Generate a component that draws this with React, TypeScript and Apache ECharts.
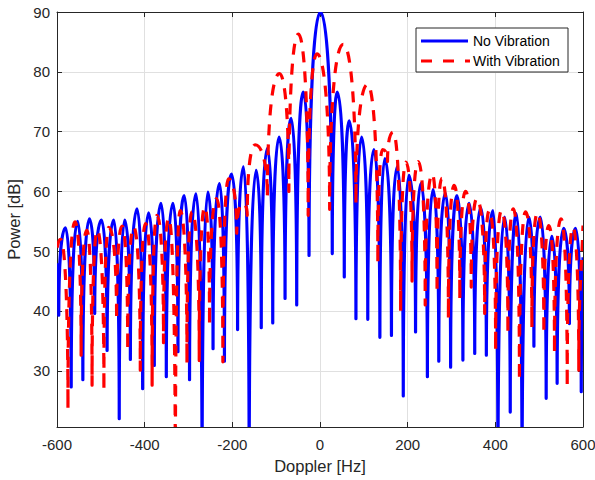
import React, { useEffect, useRef } from "react";
import * as echarts from "echarts";

// [Doppler Hz, Power dB] (lobe peaks and nulls)
const noVibration: number[][] = [
  [-600, 48], [-596, 39.3], [-580.6, 53.9], [-567.6, 27.3], [-553, 55.0], [-541, 28.5],
  [-526, 55.4], [-514, 39.6], [-498.6, 55.2], [-485.7, 33.4], [-470.6, 55.2], [-458, 22.0],
  [-445.5, 55.2], [-432.6, 31.9], [-417.4, 57.1], [-404.6, 27.0], [-391, 56.4], [-378, 30.9],
  [-362.8, 58.0], [-350.6, 29.0], [-335.5, 58.0], [-324, 33.2], [-309.7, 59.3], [-297.6, 28.5],
  [-283, 59.6], [-269, 10], [-255.7, 59.9], [-244, 33.7], [-229.3, 61.3], [-218, 31.6],
  [-202, 62.9], [-188, 36.9], [-174.6, 64.1], [-161.6, 10], [-145.7, 63.5], [-134, 37.2],
  [-120, 67.2], [-107.8, 38.0], [-93.3, 69.1], [-79.7, 42.1], [-66, 72.2], [-53.1, 41.0],
  [-38, 76.6], [-25, 49.3], [1, 90], [28, 49.6], [39.5, 76.6], [55.4, 45.7],
  [66.7, 71.8], [82, 38.7], [95, 69.1], [109, 38.6], [123, 67.0], [136.6, 35.6],
  [148, 65.5], [163, 35.9], [176, 64.1], [190, 25.8], [203, 62.7], [218, 36.5],
  [230, 61.3], [245, 29.0], [258, 60.3], [271, 31.6], [286, 59.7], [298, 30.6],
  [312.6, 59.3], [326, 31.8], [340, 58.0], [353, 32.9], [366.6, 57.3], [379.5, 32.6],
  [394.6, 56.8], [406, 10], [421, 55.7], [434, 23.1], [448, 56.3], [461, 10],
  [476.6, 55.7], [488, 34.1], [502.5, 55.7], [516, 25.4], [529, 52.5], [541, 27.9],
  [556, 53.8], [569, 37.9], [583, 53.8], [596, 26.5], [600, 49],
];

const withVibration: number[][] = [
  [-600, 50.6], [-592, 52.0], [-575, 23.7], [-559, 54.9], [-545, 32.6], [-532, 53.5],
  [-520, 27.6], [-508, 53.5], [-493, 26.7], [-482, 54.0], [-464, 38.5], [-451.6, 54.2],
  [-438.7, 33.4], [-425, 54.0], [-410, 30.1], [-398, 54.6], [-383, 27.6], [-372, 56.0],
  [-357, 34.7], [-345, 55.5], [-330, 10], [-319, 56.8], [-303.5, 31.3], [-292, 56.6],
  [-275.5, 31.7], [-263, 57.4], [-252, 37.6], [-236, 58.8], [-221.6, 31.5], [-208.7, 62.1],
  [-190, 53], [-176, 58], [-166, 56], [-148, 67.8], [-120, 59], [-92.6, 79.7],
  [-71, 60], [-49.4, 86.3], [-27, 56], [-7, 83], [22, 57], [53, 84.6],
  [82, 58], [108.6, 77.9], [132, 48], [143, 67], [154, 65], [167, 69.9],
  [184, 40], [196, 64.9], [210, 45], [224, 65.0], [240, 41], [256, 62.9],
  [267, 43], [278, 62.2], [293, 38.8], [306, 61.0], [319, 42], [332, 60.0],
  [345, 44], [358, 58.8], [375.7, 39.6], [386, 56.8], [400.7, 33.4], [414, 56.8],
  [428.7, 36.2], [441, 57.1], [455, 28.4], [469, 56.6], [483.4, 37.3], [496, 56.4],
  [510.7, 36.2], [522, 54.3], [535, 32.9], [550, 55.4], [564, 27.3], [577, 54.0],
  [590.4, 30.1], [600, 54.3],
];

const seriesNames = ["No Vibration", "With Vibration"];
const xName = "Doppler [Hz]";
const yName = "Power [dB]";

const AXIS = "#262626";
const GRIDC = "#e0e0e0";
const FONT = "Liberation Sans, Arial, Helvetica, sans-serif";

// Draws the spectrum through the axes' scales: each lobe is a curve that leaves a null
// vertically and crosses its peak horizontally.
function lobeRenderer(points: number[][], stroke: string, dash: number[] | null) {
  return (params: any, api: any) => {
    if (params.dataIndex !== 0) return null;
    const px = points.map((p) => api.coord([p[0], p[1]]) as number[]);
    const n = px.length;
    const kind = (i: number) => {
      if (i === 0 || i === n - 1) return "end";
      const y = points[i][1];
      if (y > points[i - 1][1] && y > points[i + 1][1]) return "max";
      if (y < points[i - 1][1] && y < points[i + 1][1]) return "min";
      return "mid";
    };
    const handle = (i: number, j: number) => {
      const P = px[i];
      const Q = px[j];
      const k = kind(i);
      if (k === "max") return [P[0] + 0.6 * (Q[0] - P[0]), P[1]];
      if (k === "min") return [P[0], P[1] + 0.6 * (Q[1] - P[1])];
      return [P[0] + 0.33 * (Q[0] - P[0]), P[1] + 0.33 * (Q[1] - P[1])];
    };
    let d = `M${px[0][0].toFixed(2)} ${px[0][1].toFixed(2)}`;
    for (let i = 0; i < n - 1; i++) {
      const a = handle(i, i + 1);
      const b = handle(i + 1, i);
      const e = px[i + 1];
      d += ` C${a[0].toFixed(2)} ${a[1].toFixed(2)} ${b[0].toFixed(2)} ${b[1].toFixed(2)} ${e[0].toFixed(2)} ${e[1].toFixed(2)}`;
    }
    const style: any = { fill: "none", stroke, lineWidth: 3.2, lineJoin: "round" };
    if (dash) style.lineDash = dash;
    return { type: "path", shape: { pathData: d }, style };
  };
}

export default function App() {
  const ref = useRef<HTMLDivElement>(null);
  useEffect(() => {
    if (!ref.current) return;
    const chart = echarts.init(ref.current, undefined, { renderer: "svg" });
    const baseX = {
      type: "value" as const,
      min: -600,
      max: 600,
      interval: 200,
    };
    chart.setOption({
      animation: false,
      backgroundColor: "#ffffff",
      grid: { left: 57, right: 12, top: 12, bottom: 53, containLabel: false, outerBoundsMode: "none" },
      xAxis: [
        {
          ...baseX,
          position: "bottom",
          name: xName,
          nameLocation: "middle",
          nameGap: 30,
          nameTextStyle: { color: AXIS, fontSize: 16.5, fontFamily: FONT },
          axisLine: { onZero: false, lineStyle: { color: AXIS, width: 1 } },
          axisTick: { inside: true, length: 5, lineStyle: { color: AXIS } },
          axisLabel: { color: AXIS, fontSize: 15, fontFamily: FONT, margin: 10 },
          splitLine: { show: true, lineStyle: { color: GRIDC, width: 1 } },
        },
        {
          ...baseX,
          position: "top",
          axisLine: { onZero: false, lineStyle: { color: AXIS, width: 1 } },
          axisTick: { inside: true, length: 5, lineStyle: { color: AXIS } },
          axisLabel: { show: false },
          splitLine: { show: false },
        },
      ],
      yAxis: [
        {
          type: "value",
          min: 20.6,
          max: 90,
          splitNumber: 7,
          position: "left",
          name: yName,
          nameLocation: "middle",
          nameGap: 30,
          nameTextStyle: { color: AXIS, fontSize: 16.5, fontFamily: FONT },
          axisLine: { show: true, onZero: false, lineStyle: { color: AXIS, width: 1 } },
          axisTick: { show: true, inside: true, length: 5, lineStyle: { color: AXIS } },
          axisLabel: {
            color: AXIS,
            fontSize: 15,
            fontFamily: FONT,
            margin: 7,
            formatter: (v: number) => (Math.abs(v % 10) < 1e-6 ? String(v) : ""),
          },
          splitLine: { show: true, lineStyle: { color: GRIDC, width: 1 } },
        },
        {
          type: "value",
          min: 20.6,
          max: 90,
          splitNumber: 7,
          position: "right",
          axisLine: { show: true, onZero: false, lineStyle: { color: AXIS, width: 1 } },
          axisTick: { show: true, inside: true, length: 5, lineStyle: { color: AXIS } },
          axisLabel: { show: false },
          splitLine: { show: false },
        },
      ],
      series: [
        {
          name: seriesNames[0],
          type: "custom",
          coordinateSystem: "cartesian2d",
          xAxisIndex: 0,
          yAxisIndex: 0,
          data: noVibration,
          encode: { x: 0, y: 1 },
          clip: true,
          renderItem: lobeRenderer(noVibration, "#0000ff", null),
          z: 2,
        },
        {
          name: seriesNames[1],
          type: "custom",
          coordinateSystem: "cartesian2d",
          xAxisIndex: 0,
          yAxisIndex: 0,
          data: withVibration,
          encode: { x: 0, y: 1 },
          clip: true,
          renderItem: lobeRenderer(withVibration, "#ff0000", [11, 9]),
          z: 3,
        },
      ],
      graphic: [
        {
          type: "rect",
          shape: { x: 416, y: 28, width: 152, height: 44 },
          style: { fill: "#ffffff", stroke: AXIS, lineWidth: 1 },
          z: 10,
        },
        {
          type: "line",
          shape: { x1: 421, y1: 41, x2: 468, y2: 41 },
          style: { stroke: "#0000ff", lineWidth: 3 },
          z: 11,
        },
        {
          type: "line",
          shape: { x1: 421, y1: 61, x2: 470, y2: 61 },
          style: { stroke: "#ff0000", lineWidth: 3, lineDash: [11, 11] },
          z: 11,
        },
        {
          type: "text",
          x: 473,
          y: 41,
          style: { text: seriesNames[0], fill: "#000", fontSize: 14, fontFamily: FONT, verticalAlign: "middle" },
          z: 11,
        },
        {
          type: "text",
          x: 473,
          y: 61,
          style: { text: seriesNames[1], fill: "#000", fontSize: 14, fontFamily: FONT, verticalAlign: "middle" },
          z: 11,
        },
      ],
    });
    return () => chart.dispose();
  }, []);
  return (
    <div
      ref={ref}
      style={{ position: "fixed", left: 0, top: 0, width: 595, height: 480, background: "#fff" }}
    />
  );
}
